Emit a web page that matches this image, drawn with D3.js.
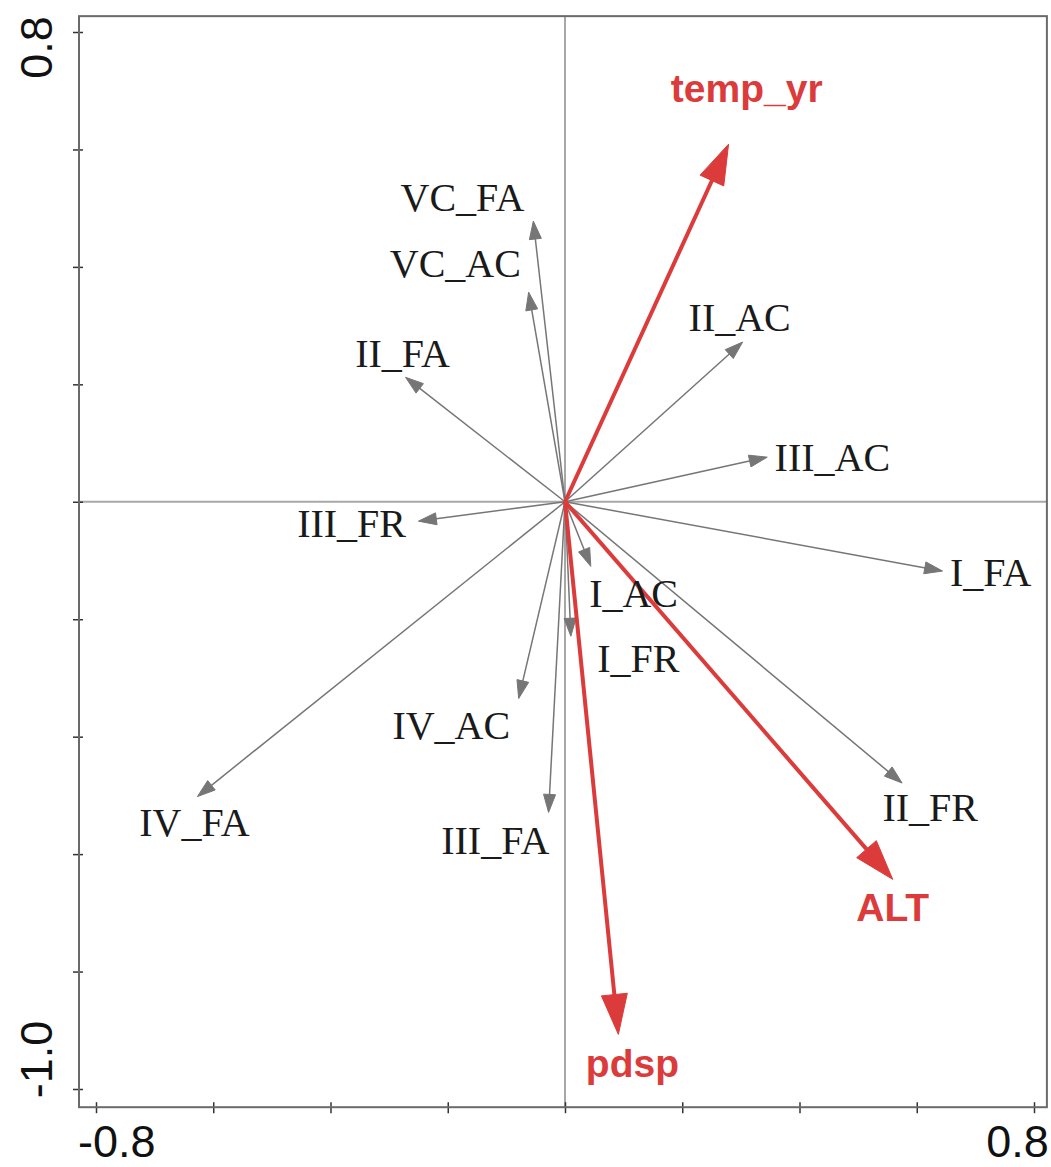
<!DOCTYPE html>
<html>
<head>
<meta charset="utf-8">
<script src="https://cdn.jsdelivr.net/npm/d3@7"></script>
<style>
  html, body { margin: 0; padding: 0; background: #fff; }
  svg { display: block; }
</style>
</head>
<body>
<svg id="chart" width="1051" height="1167"></svg>
<script>
// ---- data (ordination biplot scores) ----
const speciesNames = ["VC_FA","VC_AC","II_FA","II_AC","III_AC","III_FR","I_FA","I_AC","I_FR","IV_AC","IV_FA","III_FA","II_FR"];
const speciesX     = [-0.054,-0.062,-0.272, 0.303, 0.345,-0.250, 0.644, 0.044, 0.010,-0.079,-0.627,-0.028, 0.575];
const speciesY     = [ 0.478, 0.357, 0.212, 0.272, 0.076,-0.033,-0.118,-0.110,-0.229,-0.335,-0.502,-0.529,-0.479];
const speciesLabX  = [-0.175,-0.187,-0.277, 0.298, 0.456,-0.364, 0.726, 0.117, 0.125,-0.194,-0.632,-0.119, 0.623];
const speciesLabY  = [ 0.495, 0.382, 0.229, 0.290, 0.052,-0.060,-0.144,-0.180,-0.290,-0.404,-0.570,-0.600,-0.544];

const envNames = ["temp_yr","ALT","pdsp"];
const envX     = [0.279, 0.559, 0.091];
const envY     = [0.609,-0.643,-0.907];
const envLabX  = [0.310, 0.559, 0.115];
const envLabY  = [0.680,-0.714,-0.980];

const xTicks = [-0.8,-0.6,-0.4,-0.2,0,0.2,0.4,0.6,0.8];
const yTicks = [0.8,0.6,0.4,0.2,0,-0.2,-0.4,-0.6,-0.8,-1.0];
const xTickLabels = ["-0.8","0.8"];
const yTickLabels = ["0.8","-1.0"];
const xExtent = [-0.829, 0.822];
const yExtent = [-1.031, 0.827];

(function () {
// ---- scales ----
const svg = d3.select("#chart");
const x = d3.scaleLinear().domain([-0.8, 0.8]).range([96, 1034]);
const y = d3.scaleLinear().domain([0.8, -1.0]).range([32, 1089]);

const pLeft = x(xExtent[0]), pRight = x(xExtent[1]);
const pTop = y(yExtent[1]), pBottom = y(yExtent[0]);

// zero lines
svg.append("line")
  .attr("x1", pLeft).attr("x2", pRight).attr("y1", y(0)).attr("y2", y(0))
  .attr("stroke", "#a8a8a8").attr("stroke-width", 2);
svg.append("line")
  .attr("x1", x(0)).attr("x2", x(0)).attr("y1", pTop).attr("y2", pBottom)
  .attr("stroke", "#8a8a8a").attr("stroke-width", 1.5);

// arrow helper
function arrow(g, x0, y0, x1, y1, color, lw, L, W) {
  const dx = x1 - x0, dy = y1 - y0;
  const len = Math.sqrt(dx*dx + dy*dy);
  const ux = dx / len, uy = dy / len;
  const bx = x1 - ux * L, by = y1 - uy * L;
  g.append("line")
    .attr("x1", x0).attr("y1", y0).attr("x2", bx + ux*2).attr("y2", by + uy*2)
    .attr("stroke", color).attr("stroke-width", lw);
  g.append("polygon")
    .attr("points", [[x1, y1], [bx - uy*W, by + ux*W], [bx + uy*W, by - ux*W]].map(p => p.join(",")).join(" "))
    .attr("fill", color).attr("stroke", color).attr("stroke-width", 1).attr("stroke-linejoin", "miter");
}

// species arrows
const gSp = svg.append("g");
speciesNames.forEach((n, i) => {
  arrow(gSp, x(0), y(0), x(speciesX[i]), y(speciesY[i]), "#767676", 1.5, 18, 6);
});

// env arrows
const red = "#dc3b3b";
const gEnv = svg.append("g");
envNames.forEach((n, i) => {
  arrow(gEnv, x(0), y(0), x(envX[i]), y(envY[i]), red, 4, 40, 13);
});

// species labels
svg.append("g").selectAll("text").data(speciesNames).join("text")
  .attr("x", (d, i) => x(speciesLabX[i]))
  .attr("y", (d, i) => y(speciesLabY[i]))
  .attr("text-anchor", "middle")
  .attr("font-family", "'Liberation Serif', 'Times New Roman', serif")
  .attr("font-size", 40)
  .attr("fill", "#1a1a1a")
  .text(d => d);

// env labels
svg.append("g").selectAll("text").data(envNames).join("text")
  .attr("x", (d, i) => x(envLabX[i]))
  .attr("y", (d, i) => y(envLabY[i]))
  .attr("text-anchor", "middle")
  .attr("font-family", "'Liberation Sans', Arial, sans-serif")
  .attr("font-weight", "bold")
  .attr("font-size", 39)
  .attr("fill", red)
  .text(d => d);

// axes (ticks only)
const axB = svg.append("g").attr("transform", `translate(0,${pBottom - 5})`)
  .call(d3.axisBottom(x).tickValues(xTicks).tickSizeInner(11).tickSizeOuter(0).tickFormat(""));
const axL = svg.append("g").attr("transform", `translate(${pLeft + 4},0)`)
  .call(d3.axisLeft(y).tickValues(yTicks).tickSizeInner(10).tickSizeOuter(0).tickFormat(""));
[axB, axL].forEach(a => {
  a.select(".domain").remove();
  a.selectAll(".tick line").attr("stroke", "#333").attr("stroke-width", 1.5);
});

// frame
svg.append("rect")
  .attr("x", pLeft).attr("y", pTop).attr("width", pRight - pLeft).attr("height", pBottom - pTop)
  .attr("fill", "none").attr("stroke", "#6a6a6a").attr("stroke-width", 2);

// tick labels at the ends
const lblFont = "'Liberation Sans', Arial, sans-serif";
svg.append("text").attr("x", pLeft - 1).attr("y", 1157)
  .attr("text-anchor", "start").attr("font-family", lblFont).attr("font-size", 45).attr("fill", "#111")
  .text(xTickLabels[0]);
svg.append("text").attr("x", pRight + 2).attr("y", 1157)
  .attr("text-anchor", "end").attr("font-family", lblFont).attr("font-size", 45).attr("fill", "#111")
  .text(xTickLabels[1]);
svg.append("text").attr("transform", `translate(52,${pTop}) rotate(-90)`)
  .attr("text-anchor", "end").attr("font-family", lblFont).attr("font-size", 45).attr("fill", "#111")
  .text(yTickLabels[0]);
svg.append("text").attr("transform", `translate(52,${pBottom - 9}) rotate(-90)`)
  .attr("text-anchor", "start").attr("font-family", lblFont).attr("font-size", 45).attr("fill", "#111")
  .text(yTickLabels[1]);
})();
</script>
</body>
</html>
